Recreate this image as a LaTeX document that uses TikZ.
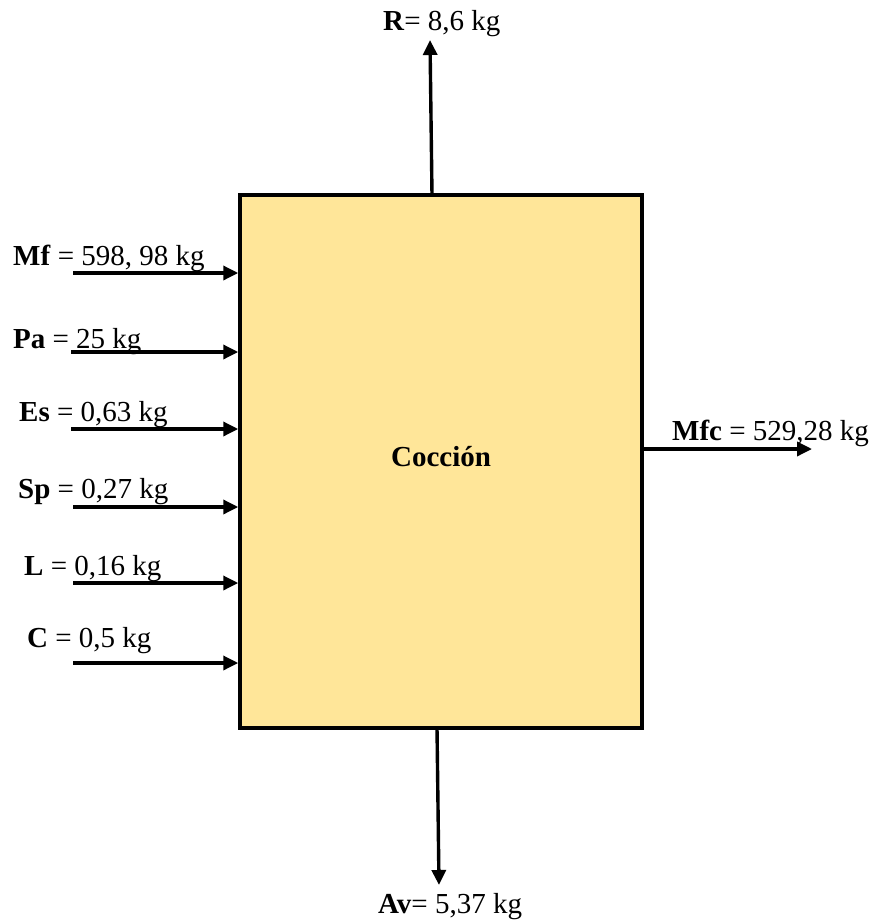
\documentclass[tikz,border=0pt]{standalone}
\usepackage{fontspec}
\setmainfont{Liberation Serif}
\usetikzlibrary{arrows.meta,calc}
\definecolor{boxfill}{HTML}{FFE699}
\tikzset{
  arr/.style={line width=3.4pt,-{Triangle[length=15pt,width=14pt]}},
  lbl/.style={anchor=base west,inner sep=0pt,font=\fontsize{29}{34}\selectfont},
  procbox/.style={draw,line width=3.5pt,fill=boxfill,minimum width=402pt,minimum height=533pt,inner sep=0pt}
}
\begin{document}
\begin{tikzpicture}[x=1pt,y=-1pt]
\useasboundingbox (0,0) rectangle (876,923);
\node[procbox] (box) at (441,461.5) {};
\node[inner sep=0pt,font=\fontsize{29}{34}\selectfont\bfseries] (title) at (441,457) {Cocción};
% inputs
\coordinate (mf) at (73,273);
\coordinate (pa) at (71,352);
\coordinate (es) at (71,429);
\coordinate (sp) at (73,507);
\coordinate (l)  at (73,583);
\coordinate (c)  at (73,663);
\draw[arr] (mf) -- (mf -| box.west);
\draw[arr] (pa) -- (pa -| box.west);
\draw[arr] (es) -- (es -| box.west);
\draw[arr] (sp) -- (sp -| box.west);
\draw[arr] (l)  -- (l -| box.west);
\draw[arr] (c)  -- (c -| box.west);
\node[lbl] (tmf) at (13,265) {\textbf{Mf} = 598, 98 kg};
\node[lbl] (tpa) at (13,348) {\textbf{Pa} = 25 kg};
\node[lbl] (tes) at (19,421) {\textbf{Es} = 0,63 kg};
\node[lbl] (tsp) at (18,498) {\textbf{Sp} = 0,27 kg};
\node[lbl] (tl)  at (24,575) {\textbf{L} = 0,16 kg};
\node[lbl] (tc)  at (27,647) {\textbf{C} = 0,5 kg};
% output right
\coordinate (mfc) at (812,449);
\draw[arr] (mfc -| box.east) -- (mfc);
\node[lbl] (tmfc) at (672,440) {\textbf{Mfc} = 529,28 kg};
% top
\coordinate (rs) at (432,195);
\coordinate (rt) at (430,40);
\draw[arr] (rs) -- (rt);
\node[lbl] (tr) at (383,31) {\textbf{R}= 8,6 kg};
% bottom
\coordinate (as) at (437,728);
\coordinate (at) at (439,885);
\draw[arr] (as) -- (at);
\node[lbl] (tav) at (378,913) {\textbf{Av}= 5,37 kg};
\end{tikzpicture}
\end{document}
